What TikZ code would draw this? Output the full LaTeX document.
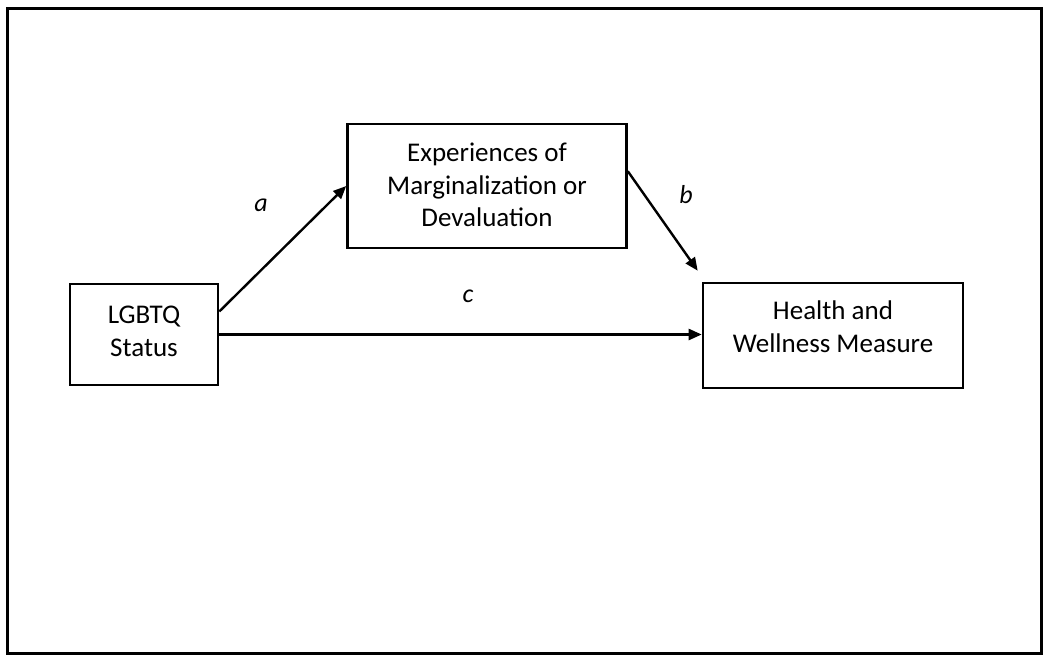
\documentclass[tikz,border=0pt]{standalone}
\usepackage{fontspec}
\setmainfont{Carlito}
\usetikzlibrary{arrows.meta,calc}
\newcommand\liftup[2]{\raisebox{#1}[\height][\depth]{\begin{tabular}{@{}c@{}}#2\end{tabular}}}
\begin{document}
\begin{tikzpicture}[x=1pt,y=-1pt,
  box/.style={draw,line width=2.6pt,minimum width=#1,align=center,inner sep=0pt,
    font=\fontsize{27}{32.5}\selectfont},
  conn/.style={line width=2.4pt,-{Triangle[length=13pt,width=11pt]}},
  lbl/.style={font=\fontsize{26}{30}\selectfont\itshape}]
\useasboundingbox (0,0) rectangle (1050,662);
\draw[line width=3pt] (7,8) rectangle (1041,653);
\node[box=148pt,minimum height=101pt] (lgbtq) at (144,334.5) {\liftup{1pt}{LGBTQ\\Status}};
\node[box=279pt,minimum height=124pt] (exp) at (487,186) {\liftup{-1.5pt}{Experiences of\\Marginalization or\\Devaluation}};
\node[box=260pt,minimum height=105pt] (health) at (833,335.5) {\liftup{6pt}{Health and\\Wellness Measure}};
\coordinate (btip) at ($(health.north west)+(-4,-11)$);
\draw[conn] (lgbtq.17) -- (exp.west);
\draw[conn] (exp.6.5) -- (btip);
\draw[conn] (lgbtq.east) -- (lgbtq.east -| health.west);
\node[lbl] (la) at (261,205) {a};
\node[lbl] (lb) at (686,195) {b};
\node[lbl] (lc) at (468,296) {c};
\end{tikzpicture}
\end{document}
